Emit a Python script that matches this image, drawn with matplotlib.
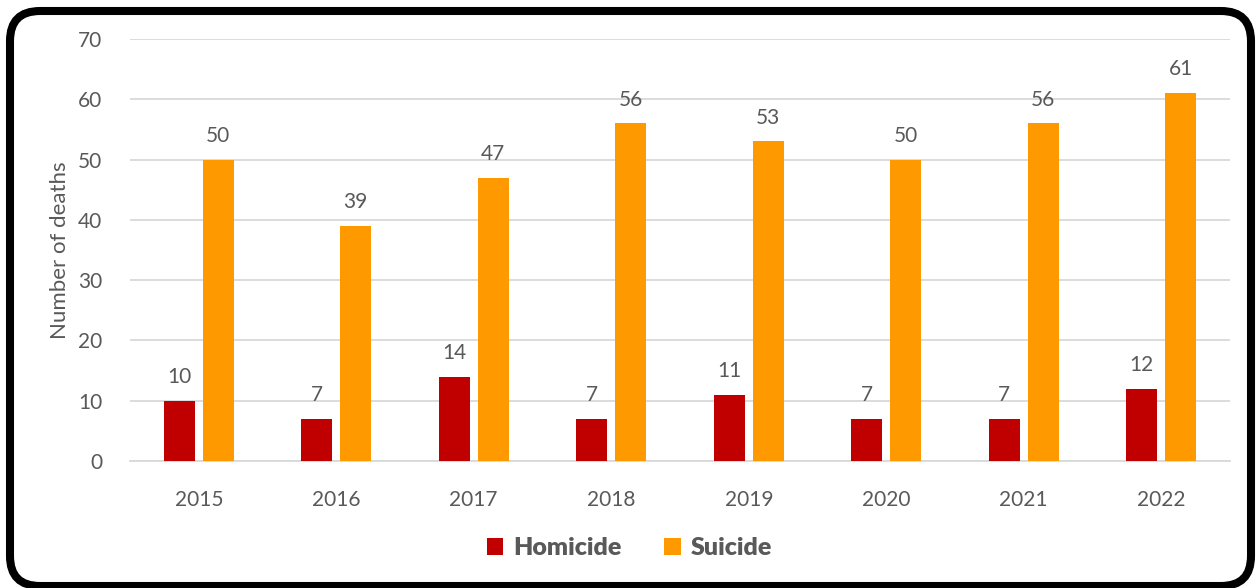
import numpy as np
import matplotlib.pyplot as plt
from matplotlib.patches import FancyBboxPatch

# Data
years = ["2015", "2016", "2017", "2018", "2019", "2020", "2021", "2022"]
homicide = [10, 7, 14, 7, 11, 7, 7, 12]
suicide = [50, 39, 47, 56, 53, 50, 56, 61]

plt.rcParams['font.family'] = ['Lato', 'DejaVu Sans']
grey = "#595959"

fig = plt.figure(figsize=(12.59, 5.88), dpi=100)
ax = fig.add_axes([130 / 1259, 1 - 461 / 588, 1100 / 1259, 422 / 588])

x = np.arange(len(years))
w = 0.226
off = 0.142
b1 = ax.bar(x - off, homicide, w, color="#C00000", label="Homicide", zorder=3)
b2 = ax.bar(x + off, suicide, w, color="#FF9900", label="Suicide", zorder=3)

# Data labels above bars
for bars in (b1, b2):
    for bar in bars:
        h = bar.get_height()
        ax.annotate(str(int(h)), (bar.get_x() + bar.get_width() / 2, h),
                    xytext=(0, 10), textcoords="offset points",
                    ha="center", va="bottom", fontsize=15, color=grey)

ax.set_xlim(-0.5, len(years) - 0.5)
ax.set_ylim(0, 70)
ax.set_yticks(range(0, 71, 10))
ax.set_xticks(x)
ax.set_xticklabels(years)
ax.tick_params(axis="both", length=0, labelsize=15, labelcolor=grey)
ax.tick_params(axis="y", pad=20)
ax.tick_params(axis="x", pad=21)
ax.set_ylabel("Number of deaths", fontsize=16, color=grey, labelpad=6)

ax.grid(axis="y", color="#D9D9D9", lw=1.3, zorder=0)
for s in ["top", "right", "left"]:
    ax.spines[s].set_visible(False)
ax.spines["bottom"].set_color("#D9D9D9")
ax.spines["bottom"].set_linewidth(1.3)

leg = fig.legend(loc="center", bbox_to_anchor=(0.5, 1 - 548 / 588), ncol=2,
                 frameon=False, fontsize=18, handlelength=0.65, handleheight=0.65,
                 columnspacing=1.7, handletextpad=0.4)
for t in leg.get_texts():
    t.set_color(grey)
    t.set_fontweight("heavy")

# Rounded black border around the chart
border = FancyBboxPatch((40, 32), 1181, 515,
                        boxstyle="round,pad=30,rounding_size=30",
                        transform=None, fill=False, edgecolor="black", lw=5.8)
fig.patches.append(border)

fig.savefig("out.png", dpi=100)
